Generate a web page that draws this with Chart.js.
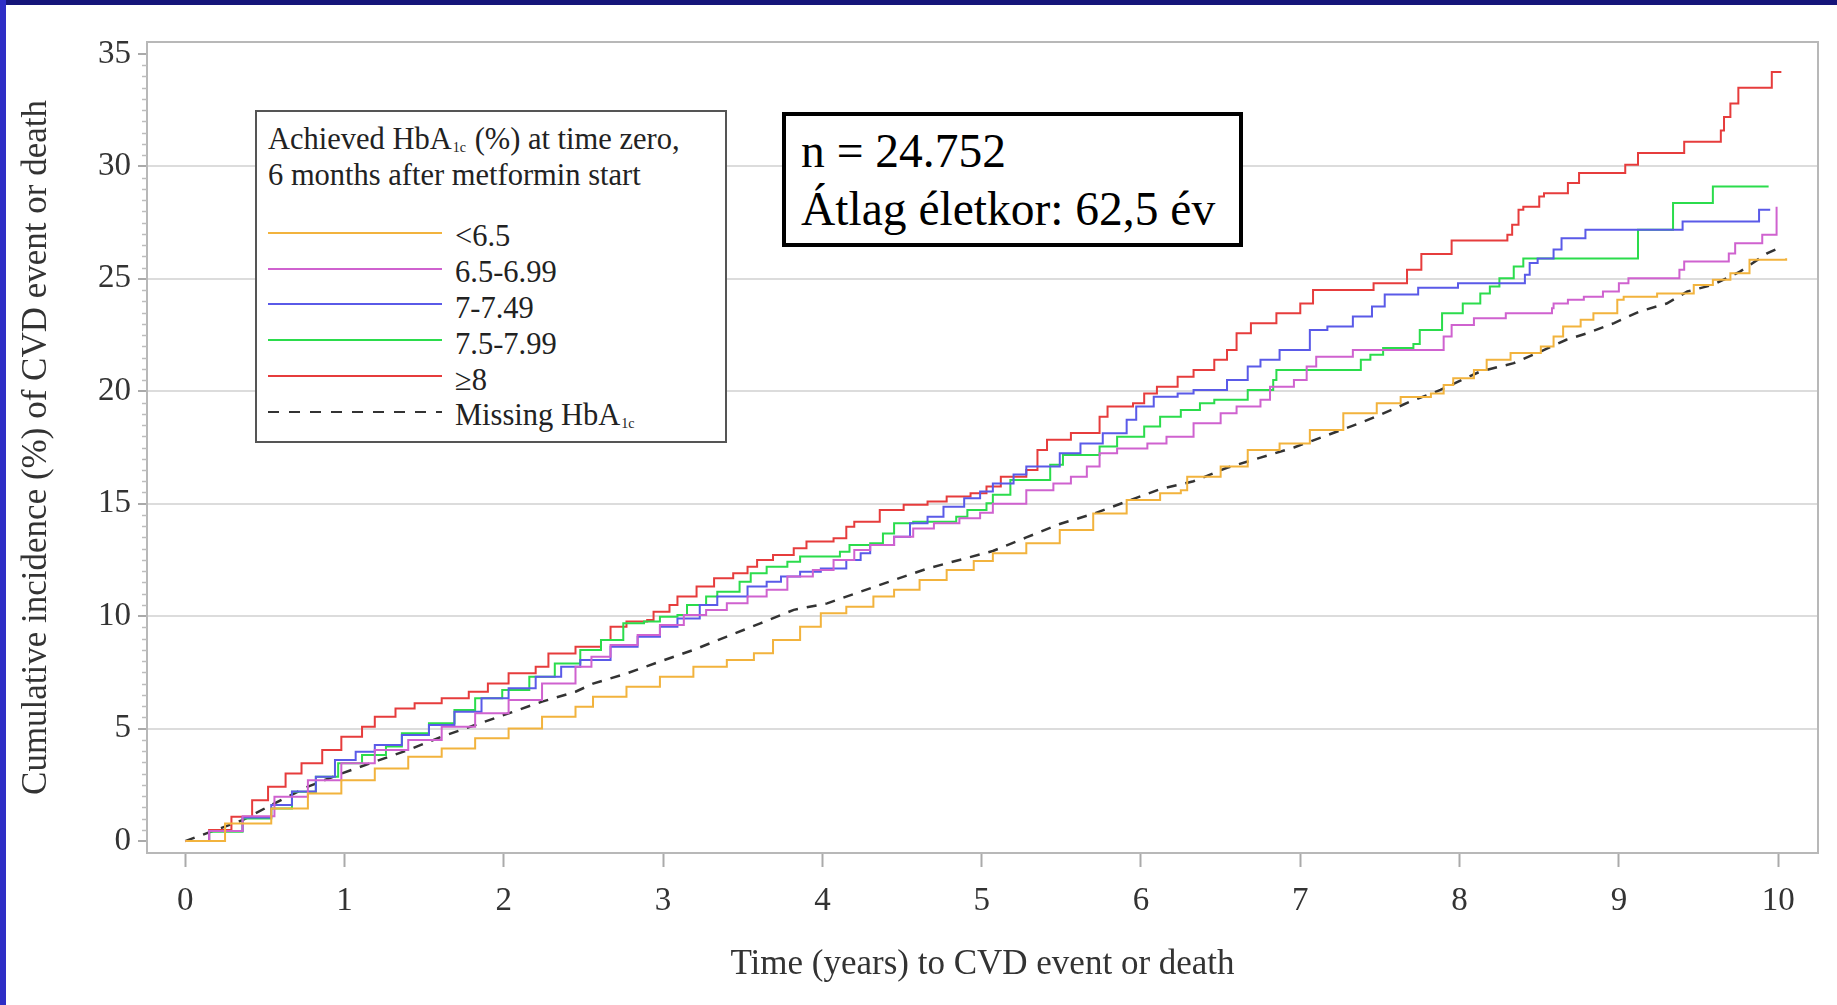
<!DOCTYPE html>
<html lang="en">
<head>
<meta charset="utf-8">
<title>Cumulative incidence of CVD event or death by achieved HbA1c</title>
<script src="https://cdn.jsdelivr.net/npm/chart.js@4.4.1/dist/chart.umd.min.js"></script>
<style>
  html, body { margin: 0; padding: 0; background: #fff; }
  body { width: 1837px; height: 1005px; position: relative; overflow: hidden;
         font-family: "Liberation Serif", "Times New Roman", serif; color: #222; }
  #wrap { position: absolute; left: 0; top: 0; width: 1837px; height: 1005px; }
  .strip-top { position: absolute; left: 0; top: 0; width: 1837px; height: 5px; background: #15157a; }
  .strip-left { position: absolute; left: 0; top: 0; width: 6px; height: 1005px; background: #2e2ec6; }
  #legend { position: absolute; left: 255px; top: 110px; width: 472px; height: 333px;
            box-sizing: border-box; border: 2px solid #555; background: #fff;
            font-size: 30.5px; padding: 9px 0 0 11px; }
  #legend .title { line-height: 36px; margin-bottom: 26px; }
  #legend .row { display: flex; align-items: center; height: 35.8px; }
  #legend .sample { width: 174px; height: 2px; margin-right: 13px; position: relative; top: -4px; }
  #legend sub { font-size: 14px; line-height: 0; vertical-align: -3px; margin: 0 1px 0 1px; }
  #note { position: absolute; left: 782px; top: 112px; width: 461px; height: 135px;
          box-sizing: border-box; border: 4px solid #000; background: #fff;
          font-size: 47.5px; line-height: 58px; padding: 6px 0 0 15px; color: #000; }
</style>
</head>
<body>
<div id="wrap"><canvas id="chart" width="1837" height="1005"></canvas></div>
<div class="strip-top"></div>
<div class="strip-left"></div>
<div id="legend"></div>
<div id="note"></div>

<script>
/* ---- Data ---- */
const xTicks = [0, 1, 2, 3, 4, 5, 6, 7, 8, 9, 10];
const yTicks = [0, 5, 10, 15, 20, 25, 30, 35];

const seriesLabels = ["<6.5", "6.5-6.99", "7-7.49", "7.5-7.99", "\u22658", "Missing HbA1c"];
const seriesLegendHtml = ["&lt;6.5", "6.5-6.99", "7-7.49", "7.5-7.99", "\u22658", "Missing HbA<sub>1c</sub>"];
const seriesColors = ["#f2b33d", "#cf62cf", "#5a5ae8", "#2bdc4c", "#e63c3c", "#333333"];

// <6.5
const tLow = [0, 0.25, 0.54, 0.77, 0.98, 1.19, 1.40, 1.61, 1.82, 2.03, 2.24, 2.45, 2.56, 2.77, 2.98, 3.19, 3.40, 3.57, 3.69, 3.86,
  3.99, 4.15, 4.32, 4.45, 4.61, 4.78, 4.95, 5.07, 5.28, 5.49, 5.70, 5.91, 6.12, 6.25, 6.29, 6.50, 6.67, 6.87, 7.06, 7.27,
  7.48, 7.63, 7.82, 7.90, 7.96, 8.09, 8.17, 8.32, 8.51, 8.59, 8.65, 8.76, 8.84, 8.99, 9.03, 9.24, 9.47, 9.59, 9.70, 9.82, 10.05];
const yLow = [0, 0.78, 1.45, 2.12, 2.71, 3.23, 3.75, 4.12, 4.57, 5.01, 5.53, 5.97, 6.42, 6.86, 7.31, 7.75, 8.05, 8.35, 8.94, 9.53,
  10.13, 10.42, 10.87, 11.17, 11.61, 12.05, 12.45, 12.80, 13.24, 13.83, 14.57, 15.17, 15.47, 15.60, 16.20, 16.65, 17.39, 17.68, 18.28, 19.02,
  19.47, 19.75, 19.90, 20.28, 20.58, 20.95, 21.40, 21.70, 21.99, 22.43, 22.88, 23.18, 23.47, 24.07, 24.20, 24.35, 24.73, 24.96, 25.25, 25.85, 25.92];

// 6.5-6.99
const tPink = [0, 0.15, 0.36, 0.56, 0.77, 0.98, 1.19, 1.40, 1.61, 1.82, 2.03, 2.24, 2.45, 2.55, 2.67, 2.84, 2.98, 3.13, 3.27, 3.40, 3.53,
  3.65, 3.78, 3.94, 4.07, 4.20, 4.30, 4.45, 4.57, 4.70, 4.86, 4.99, 5.07, 5.28, 5.45, 5.56, 5.66, 5.74, 5.85, 6.04, 6.16,
  6.33, 6.50, 6.60, 6.75, 6.81, 6.96, 7.04, 7.10, 7.33, 7.90, 7.95, 8.09, 8.29, 8.58, 8.59, 8.68, 8.78, 8.90, 9.00, 9.06,
  9.38, 9.41, 9.69, 9.73, 9.90, 9.99];
const yPink = [0, 0.45, 1.10, 1.97, 2.71, 3.46, 4.05, 4.49, 5.08, 5.68, 6.27, 7.01, 7.75, 8.20, 8.72, 9.16, 9.61, 10.05, 10.28, 10.57, 10.87,
  11.17, 11.76, 12.05, 12.50, 12.94, 13.17, 13.53, 13.90, 14.13, 14.35, 14.60, 15.00, 15.60, 15.90, 16.20, 16.65, 17.24, 17.46, 17.68, 17.98,
  18.58, 19.02, 19.32, 19.62, 20.20, 20.50, 21.10, 21.54, 21.84, 22.43, 22.95, 23.25, 23.47, 23.69, 23.90, 24.07, 24.20, 24.44, 24.80, 25.02,
  25.40, 25.77, 26.13, 26.58, 26.96, 28.20];

// 7-7.49
const tBlue = [0, 0.15, 0.36, 0.54, 0.67, 0.82, 0.94, 1.07, 1.19, 1.36, 1.53, 1.69, 1.86, 2.03, 2.20, 2.36, 2.48, 2.67, 2.84, 2.98,
  3.09, 3.23, 3.34, 3.53, 3.65, 3.74, 3.86, 3.99, 4.15, 4.24, 4.30, 4.45, 4.55, 4.66, 4.76, 4.89, 4.99, 5.07, 5.20, 5.28,
  5.49, 5.62, 5.76, 5.91, 5.97, 6.08, 6.23, 6.33, 6.54, 6.67, 6.75, 6.87, 7.06, 7.17, 7.33, 7.45, 7.53, 7.74, 7.99, 8.41,
  8.44, 8.49, 8.59, 8.64, 8.79, 9.40, 9.88, 9.95];
const yBlue = [0, 0.45, 1.05, 1.60, 2.20, 2.86, 3.60, 3.97, 4.27, 4.72, 5.16, 5.75, 6.35, 6.79, 7.31, 7.75, 8.05, 8.64, 9.09, 9.53,
  9.90, 10.50, 10.87, 11.32, 11.53, 11.76, 11.98, 12.12, 12.50, 12.80, 13.17, 13.53, 14.13, 14.42, 14.86, 15.24, 15.54, 15.90, 16.30, 16.65,
  17.24, 17.68, 18.13, 18.73, 19.32, 19.76, 19.90, 20.06, 20.50, 21.10, 21.40, 21.84, 22.73, 22.88, 23.32, 23.77, 24.30, 24.60, 24.80, 25.18,
  25.70, 25.90, 26.30, 26.80, 27.18, 27.55, 28.07, 28.07];

// 7.5-7.99
const tGreen = [0, 0.15, 0.36, 0.54, 0.67, 0.82, 0.96, 1.11, 1.26, 1.36, 1.53, 1.69, 1.82, 1.99, 2.16, 2.32, 2.48, 2.61, 2.75, 2.88,
  2.98, 3.09, 3.15, 3.27, 3.34, 3.48, 3.55, 3.65, 3.78, 3.86, 4.11, 4.17, 4.30, 4.38, 4.45, 4.57, 4.84, 4.91, 5.03, 5.07,
  5.18, 5.43, 5.51, 5.74, 5.85, 6.02, 6.12, 6.25, 6.37, 6.46, 6.67, 6.83, 6.85, 7.38, 7.44, 7.52, 7.71, 7.75, 7.89, 8.02,
  8.13, 8.19, 8.25, 8.34, 8.40, 9.12, 9.34, 9.59, 9.94];
const yGreen = [0, 0.41, 1.00, 1.45, 2.19, 2.86, 3.46, 3.83, 4.20, 4.79, 5.24, 5.83, 6.35, 6.72, 7.31, 7.90, 8.50, 8.94, 9.68, 9.76,
  9.98, 10.05, 10.50, 10.87, 11.09, 11.53, 11.91, 12.20, 12.42, 12.65, 12.87, 13.17, 13.24, 13.68, 14.13, 14.20, 14.42, 14.72, 15.02, 15.40,
  16.06, 16.73, 17.17, 17.54, 17.98, 18.43, 18.87, 19.17, 19.47, 19.62, 20.06, 20.50, 20.95, 21.40, 21.62, 21.92, 22.10, 22.73, 23.47, 23.90,
  24.35, 24.66, 25.02, 25.55, 25.90, 27.18, 28.37, 29.10, 29.10];

// >=8
const tRed = [0, 0.15, 0.29, 0.42, 0.52, 0.63, 0.73, 0.86, 0.98, 1.11, 1.19, 1.32, 1.44, 1.61, 1.78, 1.90, 2.03, 2.20, 2.28, 2.45,
  2.61, 2.67, 2.77, 2.90, 2.94, 3.04, 3.09, 3.21, 3.32, 3.44, 3.53, 3.59, 3.69, 3.82, 3.90, 4.07, 4.15, 4.20, 4.36, 4.51,
  4.66, 4.78, 4.93, 5.03, 5.12, 5.28, 5.35, 5.41, 5.56, 5.74, 5.79, 5.95, 6.02, 6.10, 6.23, 6.33, 6.46, 6.54, 6.60, 6.69,
  6.85, 7.00, 7.08, 7.46, 7.67, 7.76, 7.95, 8.30, 8.33, 8.37, 8.40, 8.50, 8.53, 8.68, 8.75, 9.04, 9.12, 9.41, 9.64, 9.66,
  9.70, 9.75, 9.96, 10.02];
const yRed = [0, 0.49, 1.08, 1.82, 2.42, 3.00, 3.46, 4.05, 4.64, 5.08, 5.53, 5.90, 6.13, 6.35, 6.64, 7.01, 7.46, 7.75, 8.34, 8.64,
  8.94, 9.53, 9.76, 9.83, 10.20, 10.50, 10.87, 11.32, 11.69, 11.91, 12.20, 12.50, 12.72, 13.02, 13.32, 13.46, 13.98, 14.20, 14.72, 14.95,
  15.10, 15.32, 15.47, 15.77, 16.20, 16.50, 17.39, 17.84, 18.14, 18.87, 19.32, 19.47, 19.90, 20.20, 20.65, 20.95, 21.40, 21.84, 22.58, 23.03,
  23.47, 23.90, 24.50, 24.80, 25.40, 26.10, 26.70, 26.96, 27.40, 28.07, 28.20, 28.66, 28.80, 29.26, 29.70, 30.07, 30.60, 31.10, 31.60, 32.20,
  32.80, 33.50, 34.20, 34.20];

// Missing HbA1c
const tMiss = [0, 0.36, 0.56, 0.77, 0.98, 1.19, 1.40, 1.61, 1.82, 2.03, 2.24, 2.45, 2.56, 2.77, 2.98, 3.19, 3.40, 3.61, 3.82, 4.03,
  4.24, 4.45, 4.66, 4.86, 5.07, 5.28, 5.49, 5.70, 5.91, 6.12, 6.33, 6.54, 6.75, 6.96, 7.17, 7.38, 7.50, 7.69, 7.88, 8.13,
  8.34, 8.51, 8.67, 8.80, 8.97, 9.13, 9.30, 9.43, 9.59, 9.76, 9.93, 10.00];
const yMiss = [0, 0.93, 1.68, 2.42, 3.00, 3.53, 4.05, 4.64, 5.16, 5.68, 6.20, 6.64, 7.00, 7.45, 7.98, 8.50, 9.09, 9.68, 10.28, 10.57,
  11.09, 11.61, 12.12, 12.50, 12.90, 13.50, 14.10, 14.55, 15.10, 15.65, 16.00, 16.60, 17.05, 17.50, 18.05, 18.60, 18.95, 19.54, 20.06, 20.88,
  21.25, 21.77, 22.29, 22.58, 23.03, 23.55, 23.90, 24.44, 24.73, 25.32, 26.13, 26.36];

const seriesT = [tLow, tPink, tBlue, tGreen, tRed, tMiss];
const seriesY = [yLow, yPink, yBlue, yGreen, yRed, yMiss];

const legendTitleHtml = "Achieved HbA<sub>1c</sub> (%) at time zero,<br>6 months after metformin start";
const noteLines = ["n = 24.752", "\u00c1tlag \u00e9letkor: 62,5 \u00e9v"];

const xTitle = "Time (years) to CVD event or death";
const yTitle = "Cumulative incidence (%) of CVD event or death";

/* ---- Helpers ---- */
const SERIF = "'Liberation Serif', 'Times New Roman', serif";
const toPoints = (ts, ys) => ts.map((t, i) => ({ x: t, y: ys[i] }));

// light grey frame round the plot area
const framePlugin = {
  id: "frame",
  beforeDatasetsDraw(chart) {
    const { ctx, chartArea: a } = chart;
    ctx.save();
    ctx.strokeStyle = "#b8b8b8";
    ctx.lineWidth = 2;
    ctx.strokeRect(a.left, a.top, a.right - a.left, a.bottom - a.top);
    ctx.restore();
  }
};

// short minor ticks on the y axis every 0.5
const minorTickPlugin = {
  id: "minorTicks",
  afterDraw(chart) {
    const { ctx, chartArea: a } = chart;
    const y = chart.scales.y;
    ctx.save();
    ctx.strokeStyle = "#bdbdbd";
    ctx.lineWidth = 1.5;
    for (let v = 0.5; v < 35; v += 0.5) {
      if (v % 5 === 0) continue;
      const py = Math.round(y.getPixelForValue(v)) + 0.5;
      ctx.beginPath();
      ctx.moveTo(a.left - 5, py);
      ctx.lineTo(a.left, py);
      ctx.stroke();
    }
    ctx.restore();
  }
};

/* ---- Legend and note boxes ---- */
function renderLegend() {
  const rows = seriesLegendHtml.map((lab, i) => {
    const c = seriesColors[i];
    const style = i === 5
      ? `height:2.5px;background:repeating-linear-gradient(to right, ${c} 0 11px, transparent 11px 21px);`
      : `background:${c};`;
    return `<div class="row"><div class="sample" style="${style}"></div><div>${lab}</div></div>`;
  }).join("");
  document.getElementById("legend").innerHTML = `<div class="title">${legendTitleHtml}</div>${rows}`;
  document.getElementById("note").innerHTML = noteLines.map(l => `<div>${l}</div>`).join("");
}

/* ---- Chart ---- */
function renderChart() {
  const datasets = seriesLabels.map((label, i) => ({
    label,
    data: toPoints(seriesT[i], seriesY[i]),
    borderColor: seriesColors[i],
    backgroundColor: seriesColors[i],
    borderWidth: i === 5 ? 2.5 : 2,
    borderDash: i === 5 ? [10, 9] : [],
    stepped: i === 5 ? false : true,
    pointRadius: 0,
    fill: false
  }));

  new Chart(document.getElementById("chart").getContext("2d"), {
    type: "line",
    data: { datasets },
    plugins: [framePlugin, minorTickPlugin],
    options: {
      responsive: false,
      animation: false,
      layout: { padding: { left: 6, top: 42, right: 19, bottom: 0 } },
      plugins: { legend: { display: false }, tooltip: { enabled: false } },
      scales: {
        x: {
          type: "linear",
          min: -0.24, max: 10.25,
          afterBuildTicks: s => { s.ticks = xTicks.map(v => ({ value: v })); },
          afterFit: s => { s.height = 152; },
          ticks: { font: { family: SERIF, size: 33 }, color: "#333", padding: 15, maxRotation: 0 },
          grid: { drawOnChartArea: false, drawTicks: true, tickLength: 14, tickColor: "#aaaaaa", tickWidth: 2 },
          border: { display: true, color: "#b8b8b8", width: 2 },
          title: { display: true, text: xTitle, color: "#333", font: { family: SERIF, size: 35 },
                   padding: { top: 0, bottom: 19 } }
        },
        y: {
          type: "linear",
          min: -0.53, max: 35.53,
          afterBuildTicks: s => { s.ticks = yTicks.map(v => ({ value: v })); },
          afterFit: s => { s.width = 141; },
          ticks: { font: { family: SERIF, size: 33 }, color: "#333", padding: 7 },
          grid: {
            color: c => (c.tick && c.tick.value > 0 && c.tick.value < 35) ? "#dcdcdc" : "rgba(0,0,0,0)",
            lineWidth: 2,
            drawTicks: true, tickLength: 9, tickColor: "#aaaaaa", tickWidth: 2
          },
          border: { display: true, color: "#b8b8b8", width: 2 },
          title: { display: true, text: yTitle, color: "#333", font: { family: SERIF, size: 35 },
                   padding: { top: 10, bottom: 0 } }
        }
      }
    }
  });
}

/* ---- Init ---- */
renderLegend();
renderChart();
</script>
</body>
</html>
